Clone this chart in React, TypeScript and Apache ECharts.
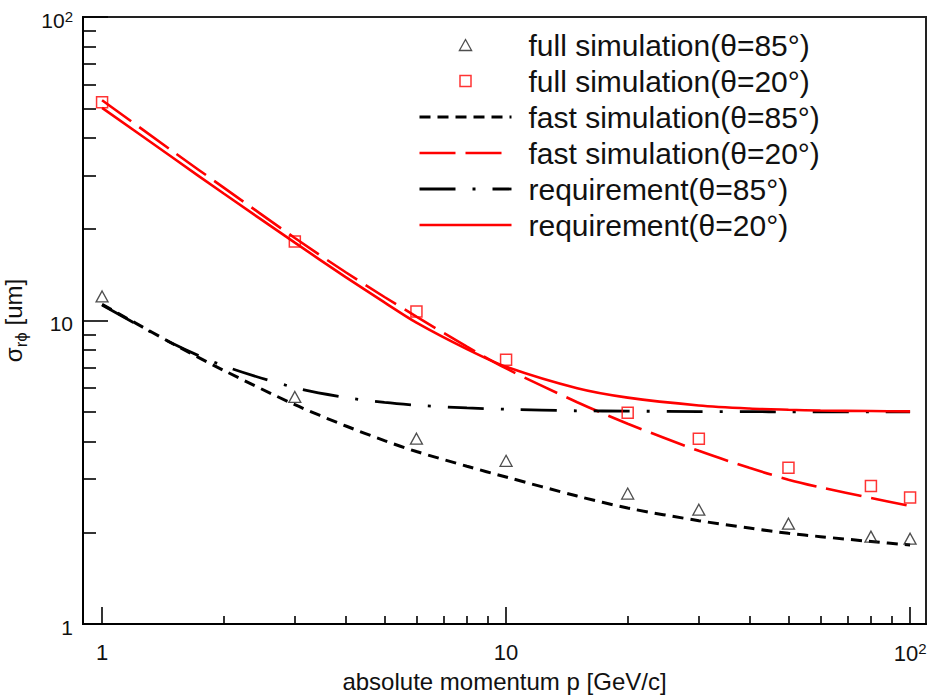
import React, { useEffect, useRef } from 'react';
import * as echarts from 'echarts';

const seriesNames = [
  'full simulation(θ=85°)',
  'full simulation(θ=20°)',
  'fast simulation(θ=85°)',
  'fast simulation(θ=20°)',
  'requirement(θ=85°)',
  'requirement(θ=20°)',
];

// measured points (full simulation)
const pointMomenta = [1, 3, 6, 10, 20, 30, 50, 80, 100];
const fullSim85 = [12.0, 5.6, 4.08, 3.45, 2.69, 2.38, 2.14, 1.94, 1.91];
const fullSim20 = [52.4, 18.2, 10.7, 7.43, 4.97, 4.08, 3.27, 2.85, 2.61];

// curves
const curveMomenta = [1, 1.5, 2, 3, 4, 5, 6, 8, 10, 15, 20, 30, 40, 50, 60, 80, 100];
const fastSim85 = [11.3, 8.37, 6.85, 5.28, 4.5, 4.02, 3.7, 3.31, 3.05, 2.64, 2.41, 2.19, 2.07, 1.99, 1.94, 1.87, 1.82];
const fastSim20 = [53.2, 36.0, 27.4, 18.7, 14.45, 11.95, 10.3, 8.2, 6.95, 5.38, 4.57, 3.72, 3.27, 2.99, 2.82, 2.6, 2.45];
const require85 = [11.25, 8.38, 7.09, 6.01, 5.58, 5.37, 5.26, 5.15, 5.1, 5.04, 5.03, 5.01, 5.01, 5.0, 5.0, 5.0, 5.0];
const require20 = [50.2, 34.3, 26.2, 18.05, 13.93, 11.47, 9.84, 8.05, 7.04, 5.98, 5.57, 5.25, 5.13, 5.08, 5.05, 5.03, 5.02];

// axes
const majorTicks = [1, 10, 100];
const majorTickLabels = ['1', '10', '{m|10}{sup|2}'];
const minorTicks = [2, 3, 4, 5, 6, 7, 8, 9, 20, 30, 40, 50, 60, 70, 80, 90];
const xRange = [0.897, 109.5];
const yRange = [1, 100];

const FONT = '"Liberation Sans", Arial, Helvetica, sans-serif';
const TRIANGLE = 'path://M5,0L10,9L0,9Z';
const SQUARE = 'path://M0,0L10,0L10,10L0,10Z';

function pairs(xs: number[], ys: number[]) {
  return xs.map((x, i) => [x, ys[i]]);
}

function tickLabel(v: number) {
  const i = majorTicks.findIndex((t) => Math.abs(t - v) / t < 1e-6);
  return i >= 0 ? majorTickLabels[i] : '';
}

export default function App() {
  const ref = useRef<HTMLDivElement>(null);
  useEffect(() => {
    const chart = echarts.init(ref.current!, null, { renderer: 'svg' });
    const labelRich = (size: number) => ({
      m: { fontSize: size, lineHeight: size + 2, fontFamily: FONT, color: '#111' },
      sup: { fontSize: 15, lineHeight: 15, verticalAlign: 'top', fontFamily: FONT, color: '#111' },
    });
    const tickStyle = { color: '#000', width: 1.6 };
    const lineCommon = {
      type: 'line',
      xAxisIndex: 0,
      yAxisIndex: 0,
      symbol: 'none',
      smooth: 0.3,
      z: 3,
    };
    const option: any = {
      animation: false,
      backgroundColor: '#fff',
      grid: {
        left: 83,
        right: 3,
        top: 17,
        bottom: 73,
        show: true,
        borderColor: '#222',
        borderWidth: 2,
        backgroundColor: 'transparent',
        containLabel: false,
        outerBoundsMode: 'none',
      },
      xAxis: [
        {
          type: 'log',
          logBase: 10,
          min: xRange[0],
          max: xRange[1],
          position: 'bottom',
          axisLine: { show: true, lineStyle: { color: '#000', width: 2 } },
          axisTick: { show: true, inside: true, length: 17, customValues: majorTicks, lineStyle: tickStyle },
          minorTick: { show: false },
          splitLine: { show: false },
          axisLabel: {
            customValues: majorTicks,
            margin: 17,
            fontSize: 22,
            lineHeight: 22,
            color: '#111',
            fontFamily: FONT,
            formatter: tickLabel,
            rich: labelRich(22),
          },
          name: 'absolute momentum p [GeV/c]',
          nameLocation: 'middle',
          nameGap: 53,
          nameTextStyle: { fontSize: 24, color: '#111', fontFamily: FONT, verticalAlign: 'middle' },
        },
        {
          type: 'log',
          logBase: 10,
          min: xRange[0],
          max: xRange[1],
          position: 'bottom',
          axisLine: { show: false },
          axisTick: { show: true, inside: true, length: 8, customValues: minorTicks, lineStyle: tickStyle },
          minorTick: { show: false },
          splitLine: { show: false },
          axisLabel: { show: false },
        },
      ],
      yAxis: [
        {
          type: 'log',
          logBase: 10,
          min: yRange[0],
          max: yRange[1],
          position: 'left',
          axisLine: { show: true, lineStyle: { color: '#000', width: 2 } },
          axisTick: { show: true, inside: true, length: 25, customValues: majorTicks, lineStyle: tickStyle },
          minorTick: { show: false },
          splitLine: { show: false },
          axisLabel: {
            customValues: majorTicks,
            margin: 10,
            fontSize: 21,
            lineHeight: 21,
            padding: [6, 0, 0, 0],
            color: '#111',
            fontFamily: FONT,
            formatter: tickLabel,
            rich: labelRich(21),
          },
          name: '{a|σ}{s|rϕ}{a| [um]}',
          nameLocation: 'middle',
          nameRotate: 90,
          nameGap: 62,
          nameTextStyle: {
            verticalAlign: 'middle',
            align: 'center',
            rich: {
              a: { fontSize: 24, lineHeight: 33, fontFamily: FONT, color: '#111' },
              s: { fontSize: 17, lineHeight: 17, verticalAlign: 'bottom', fontFamily: FONT, color: '#111' },
            },
          },
        },
        {
          type: 'log',
          logBase: 10,
          min: yRange[0],
          max: yRange[1],
          position: 'left',
          axisLine: { show: false },
          axisTick: { show: true, inside: true, length: 13, customValues: minorTicks, lineStyle: tickStyle },
          minorTick: { show: false },
          splitLine: { show: false },
          axisLabel: { show: false },
        },
      ],
      legend: {
        orient: 'vertical',
        left: 418,
        top: 30,
        padding: 0,
        itemGap: 6,
        itemWidth: 92,
        itemHeight: 11,
        selectedMode: false,
        symbolKeepAspect: true,
        formatter: '{g|}{name}',
        textStyle: {
          fontSize: 30,
          lineHeight: 30,
          color: '#111',
          fontFamily: FONT,
          rich: { g: { width: 12 } },
        },
        lineStyle: { width: 'inherit' },
        data: [
          { name: seriesNames[0], itemStyle: { borderWidth: 1.3 } },
          { name: seriesNames[1], itemStyle: { borderWidth: 1.5 } },
          { name: seriesNames[2], itemStyle: { opacity: 0 } },
          { name: seriesNames[3], itemStyle: { opacity: 0 } },
          { name: seriesNames[4], itemStyle: { opacity: 0 } },
          { name: seriesNames[5], itemStyle: { opacity: 0 } },
        ],
      },
      series: [
        {
          name: seriesNames[0],
          type: 'scatter',
          xAxisIndex: 0,
          yAxisIndex: 0,
          symbol: TRIANGLE,
          symbolSize: [12, 11],
          z: 5,
          itemStyle: { color: 'transparent', borderColor: '#222', borderWidth: 1.3 },
          data: pairs(pointMomenta, fullSim85),
        },
        {
          name: seriesNames[1],
          type: 'scatter',
          xAxisIndex: 0,
          yAxisIndex: 0,
          symbol: SQUARE,
          symbolSize: 11,
          z: 5,
          itemStyle: { color: 'transparent', borderColor: '#f00', borderWidth: 1.5 },
          data: pairs(pointMomenta, fullSim20),
        },
        {
          ...lineCommon,
          name: seriesNames[2],
          itemStyle: { color: '#000' },
          lineStyle: { color: '#000', width: 3, type: [11, 7], cap: 'butt' },
          data: pairs(curveMomenta, fastSim85),
        },
        {
          ...lineCommon,
          name: seriesNames[3],
          itemStyle: { color: '#f00' },
          lineStyle: { color: '#f00', width: 2.6, type: [36, 10], cap: 'butt' },
          data: pairs(curveMomenta, fastSim20),
        },
        {
          ...lineCommon,
          name: seriesNames[4],
          itemStyle: { color: '#000' },
          lineStyle: { color: '#000', width: 2.8, type: [36, 17, 3, 17], cap: 'butt' },
          data: pairs(curveMomenta, require85),
        },
        {
          ...lineCommon,
          name: seriesNames[5],
          itemStyle: { color: '#f00' },
          lineStyle: { color: '#f00', width: 2.6, type: 'solid' },
          data: pairs(curveMomenta, require20),
        },
      ],
    };
    chart.setOption(option);
    return () => chart.dispose();
  }, []);
  return (
    <div
      ref={ref}
      style={{ position: 'fixed', left: 0, top: 0, width: 929, height: 697, background: '#fff' }}
    />
  );
}
